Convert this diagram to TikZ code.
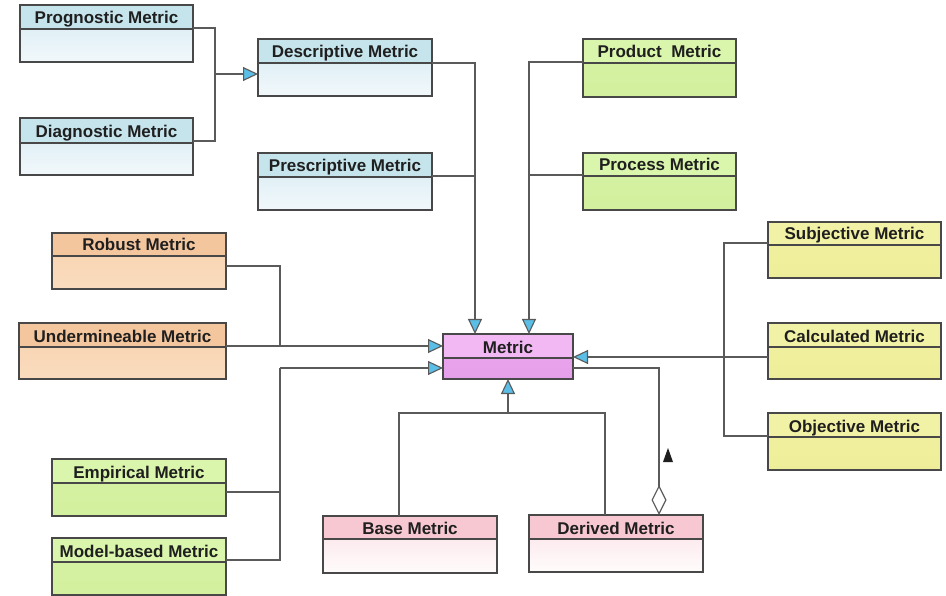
\documentclass[tikz,border=0pt]{standalone}
\usepackage{fontspec}
\setmainfont{Liberation Sans}
\usetikzlibrary{arrows.meta,calc}
\definecolor{bordc}{RGB}{72,72,72}
\definecolor{connc}{RGB}{90,90,90}
\definecolor{arrowblue}{RGB}{90,190,230}
\definecolor{bluehdr}{RGB}{198,228,236}
\definecolor{bluetop}{RGB}{212,234,242}
\definecolor{bluebot}{RGB}{242,248,251}
\definecolor{orangehdr}{RGB}{244,198,158}
\definecolor{orangetop}{RGB}{247,210,174}
\definecolor{orangebot}{RGB}{250,220,190}
\definecolor{greenhdr}{RGB}{218,246,172}
\definecolor{greentop}{RGB}{214,242,164}
\definecolor{greenbot}{RGB}{210,240,158}
\definecolor{yellowhdr}{RGB}{242,242,166}
\definecolor{yellowtop}{RGB}{240,240,160}
\definecolor{yellowbot}{RGB}{238,238,154}
\definecolor{magentahdr}{RGB}{242,184,244}
\definecolor{magentatop}{RGB}{234,166,238}
\definecolor{magentabot}{RGB}{230,160,234}
\definecolor{pinkhdr}{RGB}{248,200,210}
\definecolor{pinktop}{RGB}{250,222,228}
\definecolor{pinkbot}{RGB}{255,252,252}
\tikzset{
  boxline/.style={draw=bordc, line width=1.4pt, inner sep=0pt, outer sep=0pt, rectangle},
  conn/.style={draw=connc, line width=1.4pt},
  gen/.style={-{Triangle[length=15pt,width=14pt,fill=arrowblue,line width=1.1pt]}},
  agg/.style={{Diamond[length=30pt,width=15pt,fill=white,line width=1.2pt]}-},
  hdrtext/.style={font=\fontsize{17}{20}\selectfont\bfseries, inner sep=0pt, anchor=base, text=black!88}
}
% name, left, top, width, height, header, scheme, text
\newcommand{\umlbox}[8]{%
  \node[boxline, anchor=north west, minimum width=#4pt, minimum height=#5pt,
        top color=#7top, bottom color=#7bot,
        path picture={\fill[#7hdr] (path picture bounding box.north west) rectangle ([yshift=-#6pt]path picture bounding box.north east);
                      \draw[bordc, line width=1.2pt] ([yshift=-#6pt]path picture bounding box.north west) -- ([yshift=-#6pt]path picture bounding box.north east);}]
        (#1) at (#2,#3) {};
  \node[hdrtext] at ([yshift={-#6pt+5pt}]#1.north) {#8};
}
\begin{document}
\begin{tikzpicture}[x=1pt,y=-1pt]
\useasboundingbox[fill=white] (0,0) rectangle (946,596);
% boxes
\umlbox{prog}{20}{5}{173}{57}{24}{blue}{Prognostic Metric}
\umlbox{diag}{20}{118}{173}{57}{25}{blue}{Diagnostic Metric}
\umlbox{desc}{258}{39}{174}{57}{24}{blue}{Descriptive Metric}
\umlbox{presc}{258}{153}{174}{57}{24}{blue}{Prescriptive Metric}
\umlbox{prod}{583}{39}{153}{58}{24}{green}{Product~~Metric}
\umlbox{proc}{583}{153}{153}{57}{23}{green}{Process Metric}
\umlbox{robust}{52}{233}{174}{56}{23}{orange}{Robust Metric}
\umlbox{under}{19}{323}{207}{56}{24}{orange}{Undermineable Metric}
\umlbox{emp}{52}{459}{174}{57}{24}{green}{Empirical Metric}
\umlbox{model}{52}{538}{174}{57}{24}{green}{Model-based Metric}
\umlbox{metric}{443}{334}{130}{45}{24}{magenta}{Metric}
\umlbox{base}{323}{516}{174}{57}{23}{pink}{Base Metric}
\umlbox{derived}{529}{515}{174}{57}{24}{pink}{Derived Metric}
\umlbox{subj}{768}{222}{173}{56}{23}{yellow}{Subjective Metric}
\umlbox{calc}{768}{323}{173}{56}{24}{yellow}{Calculated Metric}
\umlbox{obj}{768}{413}{173}{57}{24}{yellow}{Objective Metric}
% junction coordinates
\coordinate (j1) at (215,74);
\coordinate (j2) at (475,176);
\coordinate (j3) at (529,175);
\coordinate (j4) at (280,346);
\coordinate (j5) at (280,368);
\coordinate (j6) at (724,357);
\coordinate (j7) at (508,413);
% connectors
\draw[conn] ([yshift=-23pt]prog.north east) -| (j1);
\draw[conn] ([yshift=-23pt]diag.north east) -| (j1);
\draw[conn,gen] (j1) -- (j1 -| desc.west);
\draw[conn,gen] ([yshift=-24pt]desc.north east) -| ([xshift=32pt]metric.north west);
\draw[conn] ([yshift=-23pt]presc.north east) -- (j2);
\draw[conn,gen] ([yshift=-23pt]prod.north west) -| ([xshift=86pt]metric.north west);
\draw[conn] ([yshift=-22pt]proc.north west) -- (j3);
\draw[conn] ([yshift=-33pt]robust.north east) -| (j4);
\draw[conn,gen] ([yshift=-23pt]under.north east) -- ([yshift=-12pt]metric.north west);
\draw[conn] ([yshift=-33pt]emp.north east) -| (j5);
\draw[conn] ([yshift=-22pt]model.north east) -| (j5);
\draw[conn,gen] (j5) -- ([yshift=-34pt]metric.north west);
\draw[conn] ([yshift=-21pt]subj.north west) -| (j6);
\draw[conn] ([yshift=-23pt]obj.north west) -| (j6);
\draw[conn,gen] ([yshift=-34pt]calc.north west) -- ([yshift=-23pt]metric.north east);
\draw[conn] ([xshift=76pt]base.north west) |- (j7);
\draw[conn] ([xshift=76pt]derived.north west) |- (j7);
\draw[conn,gen] (j7) -- (metric.south);
\draw[conn,agg] ([xshift=130pt]derived.north west) |- ([yshift=-34pt]metric.north east);
\fill[black!88] (663,462) -- (673,462) -- (668,448) -- cycle;
\end{tikzpicture}
\end{document}
